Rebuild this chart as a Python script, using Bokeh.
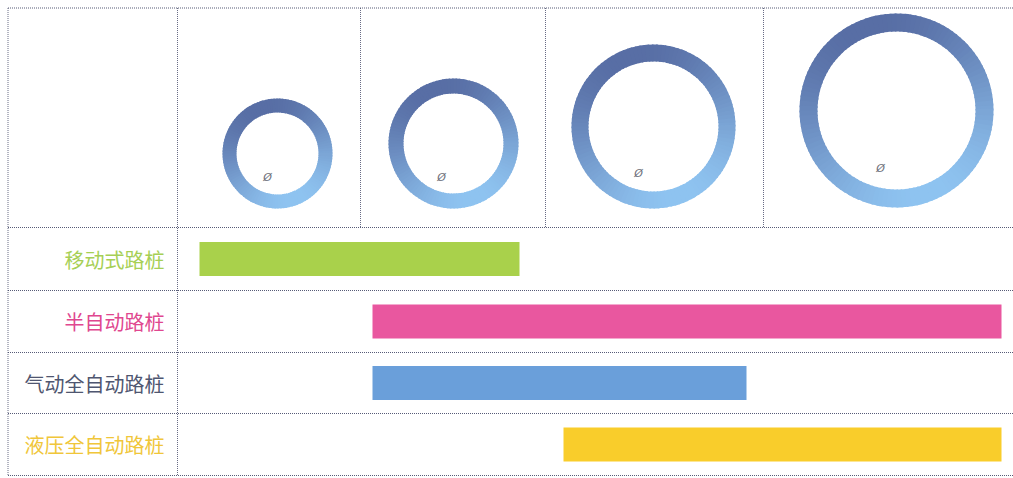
import numpy as np
from bokeh.plotting import figure
from bokeh.models import ColumnDataSource, Range1d
from bokeh.core.properties import value
from bokeh.embed import file_html
from bokeh.resources import INLINE

# ---- data ----
categories = ["移动式路桩", "半自动路桩", "气动全自动路桩", "液压全自动路桩"]
bar_start = [199, 372, 372, 563]
bar_end = [519, 1001, 746, 1001]
ring_outer = [55, 65, 82, 97]
ring_inner = [41, 50, 65, 79]
ring_label = ["Ø", "Ø", "Ø", "Ø"]

# ---- styles / layout (reference pixel coordinates, y downwards) ----
W, H = 1013, 478
bar_colors = ["#a9d14b", "#e9579f", "#6a9fda", "#f9cd2b"]
label_colors = ["#a6cf55", "#e0478f", "#4f5670", "#f0c63a"]
ring_cx = [277, 453, 653, 896]
ring_cy = [153, 143, 126, 110]
sym_dx = [-10, -12, -15, -16]
sym_dy = [24, 34, 47, 58]
row_edges = [227, 290, 352, 413, 475]
col_edges = [177, 360, 545, 763]
FONT = "Noto Sans CJK SC"


def Y(v):
    return H - v


p = figure(width=W, height=H, x_range=Range1d(0, W), y_range=Range1d(0, H),
           output_backend="svg", toolbar_location=None, min_border=0)
p.axis.visible = False
p.grid.visible = False
p.outline_line_color = None
p.background_fill_color = "white"
p.border_fill_color = "white"

# ---- table lines ----
line_col = "#4e5270"
xs_h, ys_h = [], []
for y in [7.5] + row_edges:
    xs_h.append([7.5, W]); ys_h.append([Y(y), Y(y)])
p.multi_line(xs_h, ys_h, line_color=line_col, line_width=1, line_dash="1 1", line_alpha=0.95)
xs_v = [[7.5, 7.5], [col_edges[0], col_edges[0]]]
ys_v = [[Y(7.5), Y(475)], [Y(7.5), Y(475)]]
for x in col_edges[1:]:
    xs_v.append([x, x]); ys_v.append([Y(7.5), Y(row_edges[0])])
p.multi_line(xs_v, ys_v, line_color=line_col, line_width=1, line_dash="1 1", line_alpha=0.85)

# ---- rings with gradient (segments) ----
nseg = 120


def lerp(c1, c2, t):
    a = np.array([int(c1[i:i + 2], 16) for i in (1, 3, 5)])
    b = np.array([int(c2[i:i + 2], 16) for i in (1, 3, 5)])
    c = (a + (b - a) * t).astype(int)
    return "#%02x%02x%02x" % tuple(c)


dark, light = "#586ea5", "#8fc4f1"
for i in range(len(ring_outer)):
    starts = np.linspace(0, 2 * np.pi, nseg, endpoint=False)
    ends = starts + 2 * np.pi / nseg + 0.02
    mids = starts + np.pi / nseg
    t = (1 + np.cos(mids - np.deg2rad(-70))) / 2
    t = np.clip(t, 0, 1) ** 1.1
    cols = [lerp(dark, light, tt) for tt in t]
    src = ColumnDataSource(dict(x=[ring_cx[i]] * nseg, y=[Y(ring_cy[i])] * nseg,
                                s=starts, e=ends, c=cols))
    p.annular_wedge(x="x", y="y", inner_radius=ring_inner[i], outer_radius=ring_outer[i],
                    start_angle="s", end_angle="e", fill_color="c", line_color=None, source=src)

sym_src = ColumnDataSource(dict(x=[ring_cx[i] + sym_dx[i] for i in range(4)],
                                y=[Y(ring_cy[i] + sym_dy[i]) for i in range(4)],
                                t=ring_label))
p.text(x="x", y="y", text="t", source=sym_src, text_font=value("DejaVu Sans"),
       text_font_size="11px", text_font_style="italic", text_color="#6d6f7a",
       text_align="center", text_baseline="middle")

# ---- bars ----
row_mid = [Y((row_edges[k] + row_edges[k + 1]) / 2) for k in range(4)]
bsrc = ColumnDataSource(dict(y=row_mid, left=bar_start, right=bar_end, c=bar_colors,
                             cat=categories, lc=label_colors, lx=[164] * 4))
p.hbar(y="y", left="left", right="right", height=34, fill_color="c", line_color=None, source=bsrc)
p.text(x="lx", y="y", text="cat", source=bsrc, text_font=value(FONT), text_font_size="20px",
       text_color="lc", text_align="right", text_baseline="middle")

open("out.html", "w").write(file_html(p, INLINE))
